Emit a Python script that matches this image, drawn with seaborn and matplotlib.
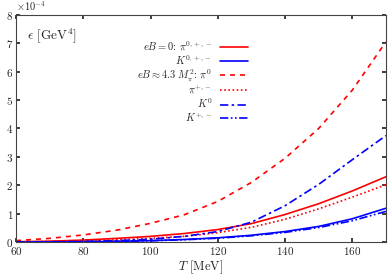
import numpy as np
import pandas as pd
import matplotlib
matplotlib.use("Agg")
import matplotlib.pyplot as plt
import seaborn as sns

sns.set_theme(style="ticks")
plt.rcParams["font.family"] = "serif"
plt.rcParams["font.serif"] = ["cmr10", "DejaVu Serif"]
plt.rcParams["mathtext.fontset"] = "cm"
plt.rcParams["axes.formatter.use_mathtext"] = True
plt.rcParams["axes.unicode_minus"] = True

# Temperature grid [MeV] and energy densities in units of 1e-4 GeV^4
T = [60, 70, 80, 90, 100, 110, 120, 130, 140, 150, 160, 170]
scale = 1e-4
pi_eB0 = [0.01, 0.03, 0.07, 0.13, 0.20, 0.30, 0.44, 0.65, 0.97, 1.35, 1.80, 2.30]
K_eB0 = [0.0, 0.005, 0.01, 0.025, 0.05, 0.09, 0.15, 0.24, 0.37, 0.55, 0.82, 1.19]
pi0_eB = [0.05, 0.13, 0.25, 0.42, 0.66, 0.96, 1.43, 2.10, 2.95, 4.00, 5.35, 7.05]
pipm_eB = [0.01, 0.02, 0.04, 0.08, 0.13, 0.20, 0.33, 0.52, 0.80, 1.17, 1.58, 2.02]
K0_eB = [0.0, 0.01, 0.02, 0.05, 0.10, 0.20, 0.37, 0.70, 1.28, 2.03, 2.90, 3.75]
Kpm_eB = [0.0, 0.004, 0.01, 0.022, 0.045, 0.08, 0.135, 0.22, 0.34, 0.51, 0.75, 1.08]

labels = [
    r"$eB=0$: $\pi^{0,+,-}$",
    r"$K^{0,+,-}$",
    r"$eB\approx 4.3\ M_\pi^2$: $\pi^0$",
    r"$\pi^{+,-}$",
    r"$K^0$",
    r"$K^{+,-}$",
]
series = [pi_eB0, K_eB0, pi0_eB, pipm_eB, K0_eB, Kpm_eB]
colors = ["#ff0000", "#0000ff", "#ff0000", "#ff0000", "#0000ff", "#0000ff"]
styles = ["-", "-", (0, (3, 3)), (0, (1, 1.5)), (0, (5, 2, 1.5, 2)), (0, (5, 1.5, 1, 1.5, 1, 1.5))]

df = pd.DataFrame({"T": np.tile(T, len(series)),
                   "eps": np.concatenate(series) * scale,
                   "curve": np.repeat(labels, len(T))})

fig = plt.figure(figsize=(3.91, 2.76), dpi=100)
ax = fig.add_axes([0.041, 0.123, 0.946, 0.823])

for lab, col, ls in zip(labels, colors, styles):
    sub = df[df["curve"] == lab]
    sns.lineplot(data=sub, x="T", y="eps", ax=ax, color=col, linestyle=ls,
                 linewidth=1.2, label=lab)

ax.set_xlim(60, 170)
ax.set_ylim(0, 8e-4)
ax.set_xticks([60, 80, 100, 120, 140, 160])
ax.set_yticks(np.arange(0, 9) * 1e-4)
ax.ticklabel_format(axis="y", style="sci", scilimits=(0, 0))
ax.tick_params(direction="in", top=True, right=True, labelsize=8, length=3, pad=2)
ax.yaxis.get_offset_text().set_fontsize(7.5)
for s in ax.spines.values():
    s.set_color("#444444")
    s.set_linewidth(0.8)

ax.set_xlabel(r"$T$ [MeV]", fontsize=9, labelpad=1)
ax.set_ylabel("")
ax.text(0.03, 0.95, r"$\epsilon$ [GeV$^4$]", transform=ax.transAxes, fontsize=9.5,
        va="top", ha="left")

ax.legend(loc="upper right", bbox_to_anchor=(0.64, 0.915), frameon=False, fontsize=7.5,
          markerfirst=False, handlelength=2.6, labelspacing=0.05, handletextpad=0.8,
          borderpad=0)

fig.savefig("out.png", dpi=100)
